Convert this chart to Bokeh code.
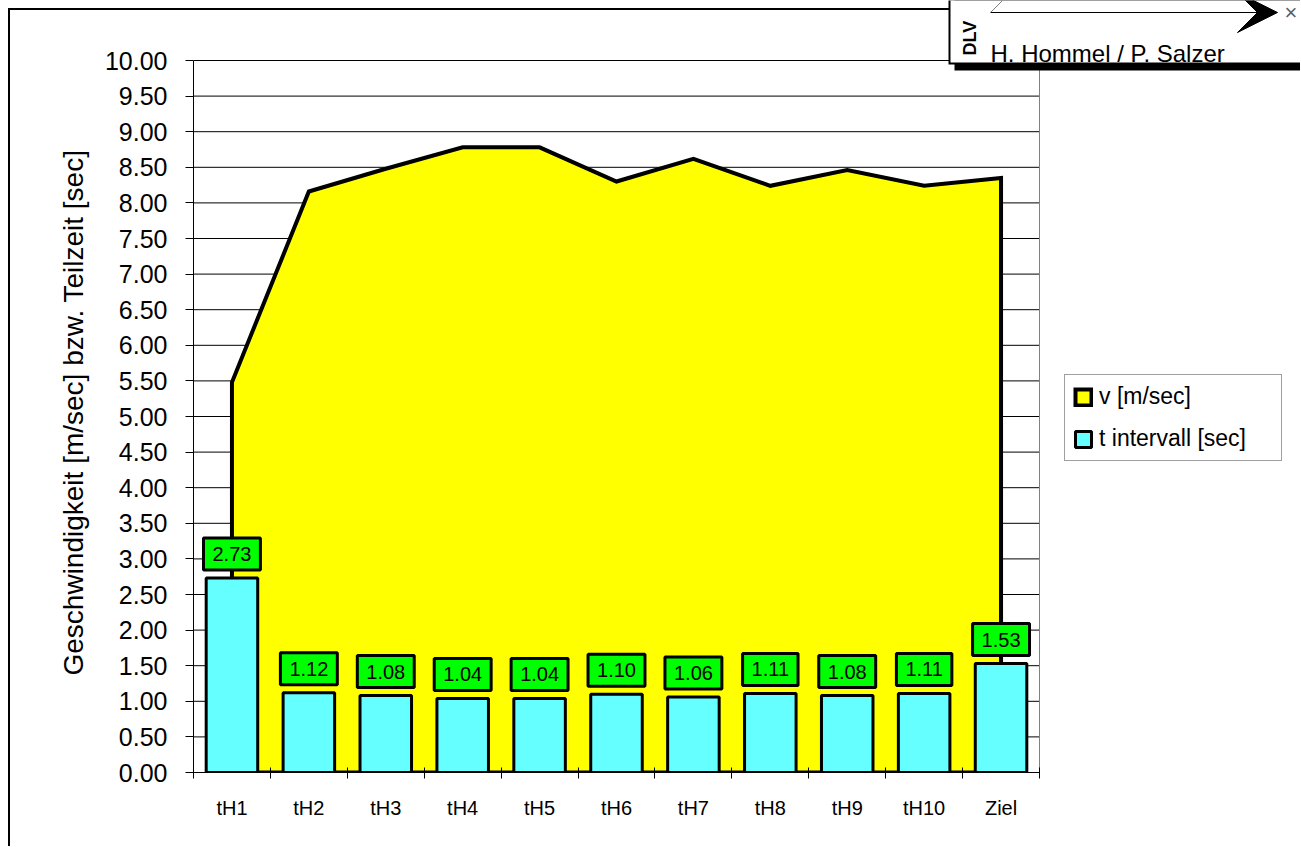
import math
from bokeh.plotting import figure
from bokeh.models import (Range1d, FixedTicker, NumeralTickFormatter, Title,
                          Label, Legend, LegendItem, BoxAnnotation, Arrow, VeeHead)
from bokeh.embed import file_html
from bokeh.resources import INLINE

# ---- data ----
categories = ["tH1", "tH2", "tH3", "tH4", "tH5", "tH6", "tH7", "tH8", "tH9", "tH10", "Ziel"]
v_speed = [5.48, 8.16, 8.48, 8.78, 8.78, 8.30, 8.62, 8.24, 8.46, 8.24, 8.35]
t_interval = [2.73, 1.12, 1.08, 1.04, 1.04, 1.10, 1.06, 1.11, 1.08, 1.11, 1.53]
y_ticks = [0.0, 0.5, 1.0, 1.5, 2.0, 2.5, 3.0, 3.5, 4.0, 4.5, 5.0,
           5.5, 6.0, 6.5, 7.0, 7.5, 8.0, 8.5, 9.0, 9.5, 10.0]
series_names = ["v [m/sec]", "t intervall [sec]"]
y_label = "Geschwindigkeit [m/sec] bzw. Teilzeit [sec]"
author = "H. Hommel / P. Salzer"

FONT = "Liberation Sans"
n = len(categories)
xc = [i + 0.5 for i in range(n)]
bounds = [float(i) for i in range(n + 1)]
y_max = y_ticks[-1]

# page geometry: canvas at (0,0) 1300x846; plot area 193..1039 x 60..772;
# the frame extends to the canvas right/top so the legend and logo can live in it
W, H = 1300, 846
FX, FY = 193, 772
x_end = n * (W - FX) / (1039 - FX)
y_end = y_max * FY / (FY - 60)

p = figure(width=W, height=H, x_range=Range1d(0, x_end), y_range=Range1d(0, y_end),
           output_backend="svg", toolbar_location=None,
           min_border_left=FX, min_border_right=0, min_border_top=0, min_border_bottom=H - FY)
p.styles = {
    "background-color": "white",
    "background-image": "linear-gradient(#000, #000), linear-gradient(#000, #000)",
    "background-size": "2px 100%, 100% 2px",
    "background-position": "8px 8px, 8px 8px",
    "background-repeat": "no-repeat",
}
p.background_fill_color = None
p.border_fill_color = None
p.outline_line_color = None
p.xgrid.grid_line_color = None
p.ygrid.grid_line_color = None

# grid lines and right plot-area border
p.segment(x0=[0] * (len(y_ticks) - 1), x1=[n] * (len(y_ticks) - 1), y0=y_ticks[1:], y1=y_ticks[1:],
          line_color="black", line_width=1)
p.segment(x0=[n], x1=[n], y0=[0], y1=[y_max], line_color="#808080", line_width=1)

# area (v)
xs = [xc[0]] + xc + [xc[-1]]
ys = [0.0] + v_speed + [0.0]
area = p.patch(xs, ys, fill_color="#FFFF00", line_color="black", line_width=4, line_join="miter")

# bars (t)
bars = p.vbar(x=xc, top=t_interval, bottom=0, width=0.67, fill_color="#66FFFF",
              line_color="black", line_width=3)

# value labels
for xi, ti in zip(xc, t_interval):
    p.add_layout(Label(x=xi, y=ti, text=f"{ti:.2f}", text_align="center", text_baseline="bottom",
                       y_offset=8, text_font=FONT, text_font_size="20px", text_color="black",
                       background_fill_color="#00FF00", border_line_color="black", border_line_width=3,
                       padding=9))

# axes
yax = p.yaxis[0]
yax.bounds = (0, y_max)
yax.ticker = FixedTicker(ticks=y_ticks, minor_ticks=[])
yax.formatter = NumeralTickFormatter(format="0.00")
yax.major_label_text_font = FONT
yax.major_label_text_font_size = "25px"
yax.major_label_text_color = "black"
yax.major_tick_out = 8
yax.major_tick_in = 0
yax.minor_tick_out = 0
yax.minor_tick_in = 0
yax.major_label_standoff = 18
yax.axis_line_color = "black"
yax.major_tick_line_color = "black"

# y axis title
p.add_layout(Title(text=y_label, align="left", offset=97, standoff=26,
                   text_font=FONT, text_font_size="28px", text_font_style="normal",
                   text_color="black"), "left")

xax = p.xaxis[0]
xax.bounds = (0, n)
xax.ticker = FixedTicker(ticks=xc, minor_ticks=bounds)
xax.major_label_overrides = {x: c for x, c in zip(xc, categories)}
xax.major_label_text_font = FONT
xax.major_label_text_font_size = "20px"
xax.major_label_text_color = "black"
xax.major_tick_out = 0
xax.major_tick_in = 0
xax.minor_tick_out = 6
xax.minor_tick_in = 5
xax.minor_tick_line_color = "black"
xax.major_label_standoff = 18
xax.axis_line_color = "black"

# legend (bottom-left corner in screen px from frame bottom-left)
legend = Legend(items=[LegendItem(label=series_names[0], renderers=[area]),
                       LegendItem(label=series_names[1], renderers=[bars])],
                location=(1064 - FX, FY - 461), padding=8, spacing=15,
                glyph_width=20, glyph_height=20, label_height=27, label_width=174,
                label_standoff=6, label_text_font=FONT, label_text_font_size="23px",
                label_text_color="black",
                border_line_color="#404040", border_line_width=1, background_fill_color="white")
p.add_layout(legend, "center")

# ---- logo box (screen units relative to frame) ----
def sx(px):
    return px - FX
def sy(py):
    return FY - py

def box(l, r, t, b, color):
    return BoxAnnotation(left=sx(l), right=sx(r), top=sy(t), bottom=sy(b),
                         left_units="screen", right_units="screen", top_units="screen", bottom_units="screen",
                         fill_color=color, fill_alpha=1, line_alpha=0, line_width=0)

p.add_layout(box(954, 1340, -30, 70, "black"))   # shadow
p.add_layout(box(948, 1340, -30, 64, "black"))   # border
p.add_layout(box(950, 1340, -30, 62, "white"))   # face
p.add_layout(box(990, 1262, 11.5, 12.5, "black"))  # arrow shaft
p.add_layout(Arrow(x_start=sx(1268), y_start=sy(12), x_end=sx(1277), y_end=sy(12),
                   start_units="screen", end_units="screen", line_color="black", line_width=1,
                   end=VeeHead(size=40, fill_color="black", line_color="black")))
p.add_layout(Arrow(x_start=sx(990), y_start=sy(12), x_end=sx(1002), y_end=sy(0),
                   start_units="screen", end_units="screen", line_color="#808080", line_width=1, end=None))
p.add_layout(Label(x=sx(1284), y=sy(12), x_units="screen", y_units="screen", text="×",
                   text_font=FONT, text_font_size="22px", text_color="#606060",
                   text_baseline="middle", text_align="left"))
p.add_layout(Label(x=sx(990), y=sy(53), x_units="screen", y_units="screen", text=author,
                   text_font=FONT, text_font_size="24px", text_color="black",
                   text_baseline="alphabetic", text_align="left"))
p.add_layout(Label(x=sx(969), y=sy(55), x_units="screen", y_units="screen", text="DLV",
                   angle=math.pi / 2, text_font=FONT, text_font_size="18px",
                   text_font_style="bold", text_color="black",
                   text_baseline="middle", text_align="left"))

open("out.html", "w").write(file_html(p, INLINE))
